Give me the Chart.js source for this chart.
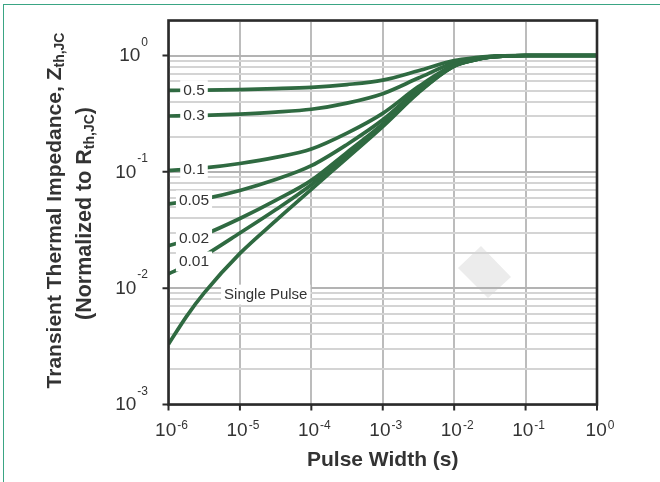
<!DOCTYPE html>
<html><head><meta charset="utf-8">
<script src="https://cdn.jsdelivr.net/npm/chart.js@4.4.1/dist/chart.umd.min.js"></script>
<style>
html,body{margin:0;padding:0;background:#fff;}
#wrap{position:relative;width:660px;height:482px;overflow:hidden;background:#fff;}
#frame{position:absolute;left:3px;top:4px;width:700px;height:600px;border-left:1.5px solid #3aa584;border-top:1.5px solid #3aa584;}
canvas{position:absolute;left:0;top:0;}
</style></head><body>
<div id="wrap"><div id="frame"></div><canvas id="c" width="660" height="482"></canvas></div>
<script>
// ---- data ----
const pulseWidth = [1e-6, 1.78e-6, 3.16e-6, 1e-5, 3.16e-5, 1e-4, 3.16e-4, 1e-3, 3.16e-3, 1e-2, 2e-2, 3.16e-2, 5e-2, 1e-1, 1];
const zD50    = [0.502, 0.503, 0.5045, 0.510, 0.519, 0.533, 0.563, 0.615, 0.740, 0.905, 0.96, 0.985, 0.995, 1.0, 1.0];
const zD30    = [0.302, 0.304, 0.306, 0.314, 0.326, 0.345, 0.390, 0.470, 0.640, 0.867, 0.944, 0.979, 0.993, 1.0, 1.0];
const zD10    = [0.103, 0.105, 0.108, 0.118, 0.133, 0.157, 0.215, 0.318, 0.540, 0.829, 0.928, 0.973, 0.991, 1.0, 1.0];
const zD05    = [0.0531, 0.0554, 0.0586, 0.0692, 0.0858, 0.113, 0.172, 0.280, 0.515, 0.820, 0.924, 0.972, 0.990, 1.0, 1.0];
const zD02    = [0.0232, 0.0256, 0.0289, 0.0397, 0.0568, 0.0845, 0.147, 0.258, 0.495, 0.814, 0.922, 0.971, 0.990, 1.0, 1.0];
const zD01    = [0.0133, 0.0156, 0.0190, 0.0298, 0.0472, 0.0775, 0.140, 0.251, 0.486, 0.812, 0.921, 0.970, 0.990, 1.0, 1.0];
const zSingle = [0.0033, 0.0057, 0.0091, 0.0199, 0.0379, 0.0706, 0.1315, 0.245, 0.478, 0.81, 0.92, 0.97, 0.99, 1.0, 1.0];
const seriesValues = [zD50, zD30, zD10, zD05, zD02, zD01, zSingle];
const seriesLabels = ['0.5', '0.3', '0.1', '0.05', '0.02', '0.01', 'Single Pulse'];
const xTickExps = [-6, -5, -4, -3, -2, -1, 0];
const yTickExps = [-3, -2, -1, 0];
const yMinorMultipliers = [1, 2, 3, 4, 5, 6, 7, 8, 9];
const xTitle = 'Pulse Width (s)';
const yTitle1 = [['Transient Thermal Impedance, Z', false], ['th,JC', true]];
const yTitle2 = [['(Normalized to R', false], ['th,JC', true], [')', false]];
const singlePulseAnchor = {x: 2.3e-5, y: 0.0088};

const yGridValues = [];
yTickExps.forEach(e => yMinorMultipliers.forEach(m => { const v = m * Math.pow(10, e); if (v <= 2.0001) yGridValues.push(v); }));
const xGridValues = xTickExps.map(e => Math.pow(10, e));

const isDecade = v => Math.abs(Math.log10(v) - Math.round(Math.log10(v))) < 1e-6;
const LINE = '#2f6a41';
const TXT = '#333333';
const FONT = '"Liberation Sans", Arial, sans-serif';

const datasets = seriesValues.map((vals, i) => ({
  label: seriesLabels[i],
  data: pulseWidth.map((t, k) => ({x: t, y: vals[k]})),
  borderColor: LINE,
  borderWidth: 3.7,
  pointRadius: 0,
  fill: false,
  cubicInterpolationMode: 'monotone'
}));

function drawRich(ctx, parts, bigSize, smallSize, bold, subShift) {
  const w = parts.map(([t, sub]) => { ctx.font = (bold ? 'bold ' : '') + (sub ? smallSize : bigSize) + 'px ' + FONT; return ctx.measureText(t).width; });
  const total = w.reduce((a, b) => a + b, 0);
  let x = -total / 2;
  parts.forEach(([t, sub], i) => {
    ctx.font = (bold ? 'bold ' : '') + (sub ? smallSize : bigSize) + 'px ' + FONT;
    ctx.fillText(t, x, sub ? subShift : 0);
    x += w[i];
  });
}

function yAtPixel(meta, xc) {
  const pts = meta.data;
  for (let k = 0; k < pts.length - 1; k++) {
    if (xc >= pts[k].x && xc <= pts[k + 1].x) {
      const f = (xc - pts[k].x) / (pts[k + 1].x - pts[k].x);
      return pts[k].y + f * (pts[k + 1].y - pts[k].y);
    }
  }
  return pts[0].y;
}

const decorPlugin = {
  id: 'decor',
  beforeDraw(chart) {
    const ctx = chart.ctx, a = chart.chartArea;
    ctx.save();
    const cx = a.left + 316, cy = a.top + 251.5;
    ctx.fillStyle = '#ececec';
    ctx.beginPath();
    ctx.moveTo(cx - 3.5, cy - 26);
    ctx.lineTo(cx + 26.5, cy + 5);
    ctx.lineTo(cx + 3.5, cy + 26);
    ctx.lineTo(cx - 26.5, cy - 4);
    ctx.closePath();
    ctx.fill();
    ctx.restore();
  },
  afterDatasetsDraw(chart) {
    const ctx = chart.ctx, a = chart.chartArea;
    ctx.save();
    ctx.font = '15.5px ' + FONT;
    ctx.textAlign = 'center';
    ctx.textBaseline = 'middle';
    for (let i = 0; i < 6; i++) {
      const meta = chart.getDatasetMeta(i);
      const xc = a.left + 25.5;
      const yc = yAtPixel(meta, xc);
      const w = ctx.measureText(seriesLabels[i]).width;
      ctx.fillStyle = '#fff';
      ctx.fillRect(xc - w / 2 - 3, yc - 10, w + 6, 20);
      ctx.fillStyle = TXT;
      ctx.fillText(seriesLabels[i], xc, yc + 0.5);
    }
    ctx.font = '15px ' + FONT;
    const sx = chart.scales.x.getPixelForValue(singlePulseAnchor.x);
    const sy = chart.scales.y.getPixelForValue(singlePulseAnchor.y);
    const w = ctx.measureText(seriesLabels[6]).width;
    ctx.fillStyle = '#fff';
    ctx.fillRect(sx - w / 2 - 3, sy - 10, w + 6, 20);
    ctx.fillStyle = TXT;
    ctx.fillText(seriesLabels[6], sx, sy + 0.5);
    ctx.restore();
  },
  afterDraw(chart) {
    const ctx = chart.ctx, a = chart.chartArea;
    const xs = chart.scales.x, ys = chart.scales.y;
    ctx.save();
    ctx.strokeStyle = '#2b2b2b';
    ctx.lineWidth = 2.6;
    ctx.strokeRect(a.left, a.top, a.right - a.left, a.bottom - a.top);
    ctx.lineWidth = 2;
    ctx.beginPath();
    xTickExps.forEach(e => { const px = xs.getPixelForValue(Math.pow(10, e)); ctx.moveTo(px, a.bottom); ctx.lineTo(px, a.bottom + 6); });
    yTickExps.forEach(e => { const py = ys.getPixelForValue(Math.pow(10, e)); ctx.moveTo(a.left, py); ctx.lineTo(a.left - 6, py); });
    ctx.stroke();
    ctx.fillStyle = TXT;
    ctx.textBaseline = 'middle';
    ctx.textAlign = 'left';
    const big = '19px ' + FONT, small = '12px ' + FONT;
    xTickExps.forEach(e => {
      const px = xs.getPixelForValue(Math.pow(10, e));
      ctx.font = big; const w1 = ctx.measureText('10').width;
      ctx.font = small; const w2 = ctx.measureText(String(e)).width;
      const left = px + 3 - (w1 + 1 + w2) / 2;
      ctx.font = big; ctx.fillText('10', left, a.bottom + 26.5);
      ctx.font = small; ctx.fillText(String(e), left + w1 + 1, a.bottom + 21.5);
    });
    yTickExps.forEach(e => {
      const py = ys.getPixelForValue(Math.pow(10, e));
      ctx.font = big; const w1 = ctx.measureText('10').width;
      ctx.font = small; const w2 = ctx.measureText(String(e)).width;
      const right = a.left - 20.5;
      const left = right - w2 - 1 - w1;
      ctx.font = big; ctx.fillText('10', left, py + 0.5);
      ctx.font = small; ctx.fillText(String(e), left + w1 + 1, py - 13);
    });
    ctx.save();
    ctx.translate((a.left + a.right) / 2, a.bottom + 55.5);
    drawRich(ctx, [[xTitle, false]], 21, 14, true, 0);
    ctx.restore();
    const cyT = (a.top + a.bottom) / 2 - 2;
    ctx.save();
    ctx.translate(55, cyT);
    ctx.rotate(-Math.PI / 2);
    drawRich(ctx, yTitle1, 21, 14, true, 5);
    ctx.restore();
    ctx.save();
    ctx.translate(85, cyT + 3);
    ctx.rotate(-Math.PI / 2);
    drawRich(ctx, yTitle2, 21.5, 14, true, 5);
    ctx.restore();
    ctx.restore();
  }
};

new Chart(document.getElementById('c'), {
  type: 'line',
  data: {datasets},
  plugins: [decorPlugin],
  options: {
    responsive: false,
    animation: false,
    devicePixelRatio: 1,
    layout: {padding: {left: 0, right: 63, top: 20.5, bottom: 0}},
    plugins: {legend: {display: false}, tooltip: {enabled: false}},
    scales: {
      x: {
        type: 'logarithmic', min: 1e-6, max: 1,
        afterBuildTicks: s => { s.ticks = xGridValues.map(v => ({value: v})); },
        afterFit: s => { s.height = 77.5; },
        ticks: {display: false},
        border: {display: false},
        grid: {drawTicks: false, color: '#bcbcbc', lineWidth: 2}
      },
      y: {
        type: 'logarithmic', min: 1e-3, max: 2,
        afterBuildTicks: s => { s.ticks = yGridValues.map(v => ({value: v})); },
        afterFit: s => { s.width = 168.5; },
        ticks: {display: false},
        border: {display: false},
        grid: {drawTicks: false, lineWidth: 2, color: c => isDecade(c.tick.value) ? '#b3b3b3' : '#d4d4d4'}
      }
    }
  }
});
</script>
</body></html>
